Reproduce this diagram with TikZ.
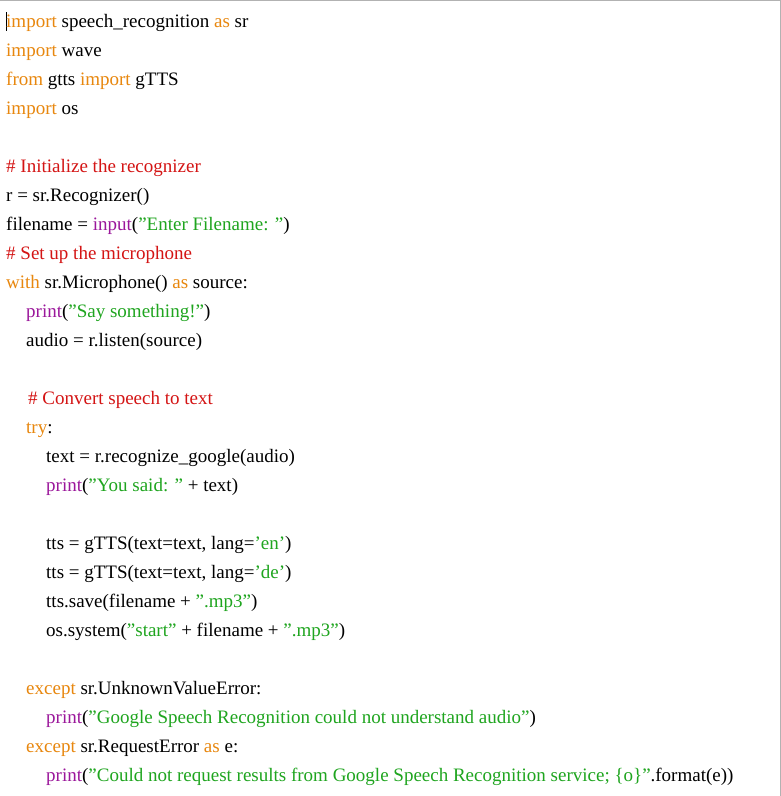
\documentclass[tikz,border=0pt]{standalone}
\usepackage{fontspec}
\setmainfont{Liberation Serif}
\definecolor{kw}{HTML}{E8870E}
\definecolor{fn}{HTML}{9B179B}
\definecolor{st}{HTML}{1FA51F}
\definecolor{cm}{HTML}{D41414}
\newcommand{\K}[1]{\textcolor{kw}{#1}}
\newcommand{\F}[1]{\textcolor{fn}{#1}}
\newcommand{\Sg}[1]{\textcolor{st}{#1}}
\newcommand{\C}[1]{\textcolor{cm}{#1}}
\newcommand{\q}{\symbol{39}}
\newcommand{\dq}{\symbol{34}}
\begin{document}
\begin{tikzpicture}[x=1pt,y=-1pt,code/.style={anchor=base west,inner sep=0pt,font=\fontsize{19}{22}\selectfont}]
\useasboundingbox (0,0) rectangle (781,796);
\fill[white] (0,0) rectangle (781,796);
\draw[gray!60,line width=1pt] (0,0.5) -- (781,0.5);
\draw[gray!60,line width=1pt] (780.5,0) -- (780.5,796);
\draw[black,line width=0.8pt] (6.5,12) -- (6.5,31);
\node[code] (l1) at (6,27) {\K{import} speech\_recognition \K{as} sr};
\node[code] (l2) at (6,56) {\K{import} wave};
\node[code] (l3) at (6,85) {\K{from} gtts \K{import} gTTS};
\node[code] (l4) at (6,114) {\K{import} os};
\node[code] (l5) at (6,172) {\C{\# Initialize the recognizer}};
\node[code] (l6) at (6,201) {r = sr.Recognizer()};
\node[code] (l7) at (6,230) {filename = \F{input}(\Sg{\dq Enter Filename: \dq})};
\node[code] (l8) at (6,259) {\C{\# Set up the microphone}};
\node[code] (l9) at (6,288) {\K{with} sr.Microphone() \K{as} source:};
\node[code] (l10) at (26,317) {\F{print}(\Sg{\dq Say something!\dq})};
\node[code] (l11) at (26,346) {audio = r.listen(source)};
\node[code] (l12) at (28,404) {\C{\# Convert speech to text}};
\node[code] (l13) at (26,433) {\K{try}:};
\node[code] (l14) at (46,462) {text = r.recognize\_google(audio)};
\node[code] (l15) at (46,491) {\F{print}(\Sg{\dq You said: \dq} + text)};
\node[code] (l16) at (46,549) {tts = gTTS(text=text, lang=\Sg{\q en\q})};
\node[code] (l17) at (46,578) {tts = gTTS(text=text, lang=\Sg{\q de\q})};
\node[code] (l18) at (46,607) {tts.save(filename + \Sg{\dq.mp3\dq})};
\node[code] (l19) at (46,636) {os.system(\Sg{\dq start\dq} + filename + \Sg{\dq.mp3\dq})};
\node[code] (l20) at (26,694) {\K{except} sr.UnknownValueError:};
\node[code] (l21) at (46,723) {\F{print}(\Sg{\dq Google Speech Recognition could not understand audio\dq})};
\node[code] (l22) at (26,752) {\K{except} sr.RequestError \K{as} e:};
\node[code] (l23) at (46,781) {\F{print}(\Sg{\dq Could not request results from Google Speech Recognition service; \{o\}\dq}.format(e))};
\end{tikzpicture}
\end{document}
